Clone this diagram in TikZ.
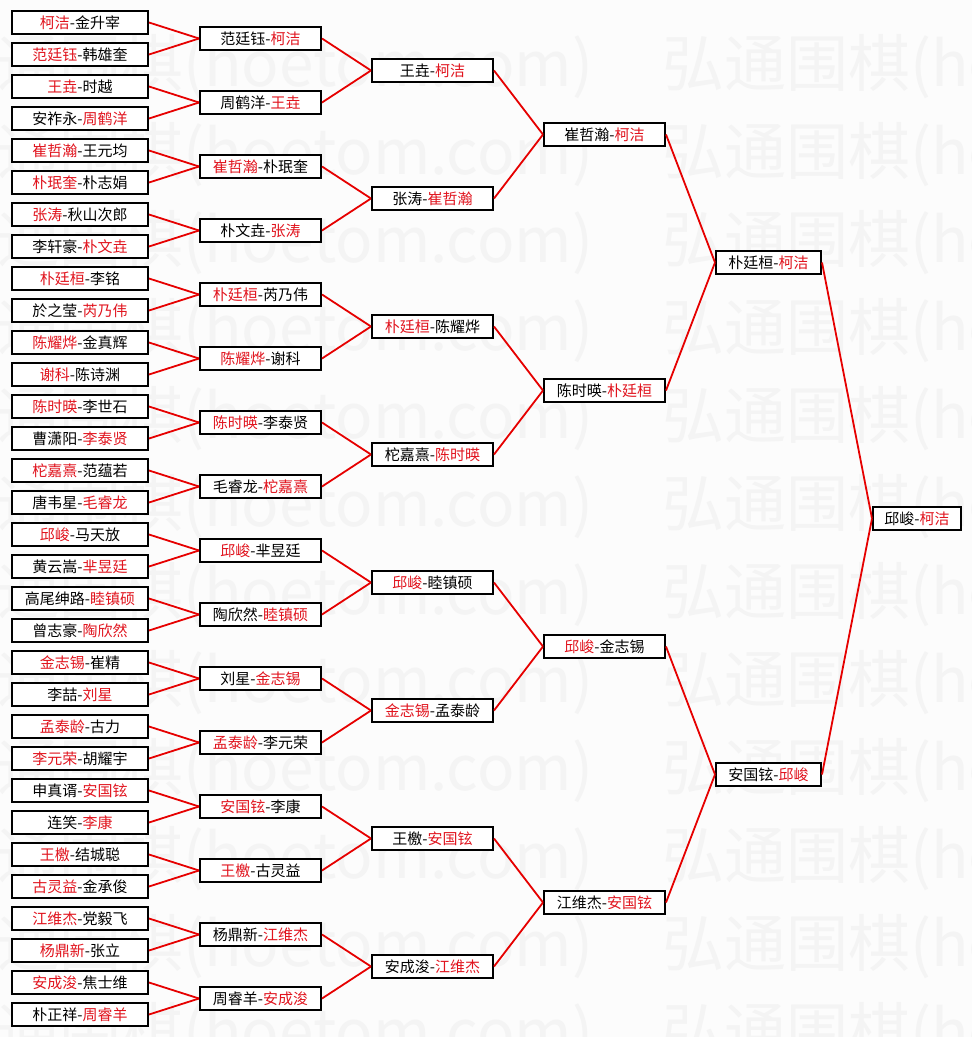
\documentclass[tikz,border=0pt]{standalone}
\usepackage{fontspec}
\setmainfont{Noto Sans CJK SC}
\usepackage{xcolor}
\usepackage{tikz}

\definecolor{wincol}{RGB}{225,20,30}
\definecolor{linecol}{RGB}{230,0,0}
\definecolor{bgcol}{RGB}{252,252,252}
\definecolor{wmcol}{RGB}{244,244,244}
\newcommand{\win}[1]{\textcolor{wincol}{#1}}
\newcommand{\wmtxt}{弘通围棋(hoetom.com)}

\begin{document}
\begin{tikzpicture}[x=1pt, y=1pt, node distance=32pt]
\tikzstyle{match}=[shape=rectangle, draw=black, line width=2pt, fill=white,
                   inner sep=0pt, minimum height=23pt, font=\fontsize{15}{18}\selectfont]
\tikzstyle{rnd64}=[match, minimum width=136pt, node distance=32pt]
\tikzstyle{rnd32}=[match, minimum width=121pt, node distance=180.5pt]
\tikzstyle{rnd16}=[match, minimum width=121pt, node distance=172pt]
\tikzstyle{rndqf}=[match, minimum width=121pt, node distance=172pt]
\tikzstyle{rndsf}=[match, minimum width=105pt, node distance=164pt]
\tikzstyle{rndfin}=[match, minimum width=88pt, node distance=148.5pt]
\tikzstyle{feed}=[draw=linecol, line width=1.8pt]
\tikzstyle{wmtext}=[anchor=west, inner sep=0pt, text=wmcol,
                    font=\fontsize{62}{62}\selectfont]
  \path[use as bounding box, fill=bgcol] (0,0) rectangle (972,-1037);
  % watermark
  \begin{scope}
  \clip (0,0) rectangle (972,-1037);
  \node[wmtext] (wm1a)  at (-65,-67)   {\wmtxt}; \node[wmtext] (wm1b)  at (662,-67)   {\wmtxt};
  \node[wmtext] (wm2a)  at (-65,-155)  {\wmtxt}; \node[wmtext] (wm2b)  at (662,-155)  {\wmtxt};
  \node[wmtext] (wm3a)  at (-65,-243)  {\wmtxt}; \node[wmtext] (wm3b)  at (662,-243)  {\wmtxt};
  \node[wmtext] (wm4a)  at (-65,-331)  {\wmtxt}; \node[wmtext] (wm4b)  at (662,-331)  {\wmtxt};
  \node[wmtext] (wm5a)  at (-65,-419)  {\wmtxt}; \node[wmtext] (wm5b)  at (662,-419)  {\wmtxt};
  \node[wmtext] (wm6a)  at (-65,-507)  {\wmtxt}; \node[wmtext] (wm6b)  at (662,-507)  {\wmtxt};
  \node[wmtext] (wm7a)  at (-65,-595)  {\wmtxt}; \node[wmtext] (wm7b)  at (662,-595)  {\wmtxt};
  \node[wmtext] (wm8a)  at (-65,-683)  {\wmtxt}; \node[wmtext] (wm8b)  at (662,-683)  {\wmtxt};
  \node[wmtext] (wm9a)  at (-65,-771)  {\wmtxt}; \node[wmtext] (wm9b)  at (662,-771)  {\wmtxt};
  \node[wmtext] (wm10a) at (-65,-859)  {\wmtxt}; \node[wmtext] (wm10b) at (662,-859)  {\wmtxt};
  \node[wmtext] (wm11a) at (-65,-947)  {\wmtxt}; \node[wmtext] (wm11b) at (662,-947)  {\wmtxt};
  \node[wmtext] (wm12a) at (-65,-1035) {\wmtxt}; \node[wmtext] (wm12b) at (662,-1035) {\wmtxt};
  \end{scope}
  %
  \node[rnd64] (a1) at (80,-22.5) {\win{柯洁}-金升宰};
  \node[rnd64] (a2)  [below of=a1]  {\win{范廷钰}-韩雄奎};
  \node[rnd64] (a3)  [below of=a2]  {\win{王垚}-时越};
  \node[rnd64] (a4)  [below of=a3]  {安祚永-\win{周鹤洋}};
  \node[rnd64] (a5)  [below of=a4]  {\win{崔哲瀚}-王元均};
  \node[rnd64] (a6)  [below of=a5]  {\win{朴珉奎}-朴志娟};
  \node[rnd64] (a7)  [below of=a6]  {\win{张涛}-秋山次郎};
  \node[rnd64] (a8)  [below of=a7]  {李轩豪-\win{朴文垚}};
  \node[rnd64] (a9)  [below of=a8]  {\win{朴廷桓}-李铭};
  \node[rnd64] (a10) [below of=a9]  {於之莹-\win{芮乃伟}};
  \node[rnd64] (a11) [below of=a10] {\win{陈耀烨}-金真辉};
  \node[rnd64] (a12) [below of=a11] {\win{谢科}-陈诗渊};
  \node[rnd64] (a13) [below of=a12] {\win{陈时暎}-李世石};
  \node[rnd64] (a14) [below of=a13] {曹潇阳-\win{李泰贤}};
  \node[rnd64] (a15) [below of=a14] {\win{柁嘉熹}-范蕴若};
  \node[rnd64] (a16) [below of=a15] {唐韦星-\win{毛睿龙}};
  \node[rnd64] (a17) [below of=a16] {\win{邱峻}-马天放};
  \node[rnd64] (a18) [below of=a17] {黄云嵩-\win{芈昱廷}};
  \node[rnd64] (a19) [below of=a18] {高尾绅路-\win{睦镇硕}};
  \node[rnd64] (a20) [below of=a19] {曾志豪-\win{陶欣然}};
  \node[rnd64] (a21) [below of=a20] {\win{金志锡}-崔精};
  \node[rnd64] (a22) [below of=a21] {李喆-\win{刘星}};
  \node[rnd64] (a23) [below of=a22] {\win{孟泰龄}-古力};
  \node[rnd64] (a24) [below of=a23] {\win{李元荣}-胡耀宇};
  \node[rnd64] (a25) [below of=a24] {申真谞-\win{安国铉}};
  \node[rnd64] (a26) [below of=a25] {连笑-\win{李康}};
  \node[rnd64] (a27) [below of=a26] {\win{王檄}-结城聪};
  \node[rnd64] (a28) [below of=a27] {\win{古灵益}-金承俊};
  \node[rnd64] (a29) [below of=a28] {\win{江维杰}-党毅飞};
  \node[rnd64] (a30) [below of=a29] {\win{杨鼎新}-张立};
  \node[rnd64] (a31) [below of=a30] {\win{安成浚}-焦士维};
  \node[rnd64] (a32) [below of=a31] {朴正祥-\win{周睿羊}};
  %
  \node[rnd32] (b1)  [right of=a1,  yshift=-16pt] {范廷钰-\win{柯洁}};
  \node[rnd32] (b2)  [right of=a3,  yshift=-16pt] {周鹤洋-\win{王垚}};
  \node[rnd32] (b3)  [right of=a5,  yshift=-16pt] {\win{崔哲瀚}-朴珉奎};
  \node[rnd32] (b4)  [right of=a7,  yshift=-16pt] {朴文垚-\win{张涛}};
  \node[rnd32] (b5)  [right of=a9,  yshift=-16pt] {\win{朴廷桓}-芮乃伟};
  \node[rnd32] (b6)  [right of=a11, yshift=-16pt] {\win{陈耀烨}-谢科};
  \node[rnd32] (b7)  [right of=a13, yshift=-16pt] {\win{陈时暎}-李泰贤};
  \node[rnd32] (b8)  [right of=a15, yshift=-16pt] {毛睿龙-\win{柁嘉熹}};
  \node[rnd32] (b9)  [right of=a17, yshift=-16pt] {\win{邱峻}-芈昱廷};
  \node[rnd32] (b10) [right of=a19, yshift=-16pt] {陶欣然-\win{睦镇硕}};
  \node[rnd32] (b11) [right of=a21, yshift=-16pt] {刘星-\win{金志锡}};
  \node[rnd32] (b12) [right of=a23, yshift=-16pt] {\win{孟泰龄}-李元荣};
  \node[rnd32] (b13) [right of=a25, yshift=-16pt] {\win{安国铉}-李康};
  \node[rnd32] (b14) [right of=a27, yshift=-16pt] {\win{王檄}-古灵益};
  \node[rnd32] (b15) [right of=a29, yshift=-16pt] {杨鼎新-\win{江维杰}};
  \node[rnd32] (b16) [right of=a31, yshift=-16pt] {周睿羊-\win{安成浚}};
  %
  \node[rnd16] (c1) [right of=b1,  yshift=-32pt] {王垚-\win{柯洁}};
  \node[rnd16] (c2) [right of=b3,  yshift=-32pt] {张涛-\win{崔哲瀚}};
  \node[rnd16] (c3) [right of=b5,  yshift=-32pt] {\win{朴廷桓}-陈耀烨};
  \node[rnd16] (c4) [right of=b7,  yshift=-32pt] {柁嘉熹-\win{陈时暎}};
  \node[rnd16] (c5) [right of=b9,  yshift=-32pt] {\win{邱峻}-睦镇硕};
  \node[rnd16] (c6) [right of=b11, yshift=-32pt] {\win{金志锡}-孟泰龄};
  \node[rnd16] (c7) [right of=b13, yshift=-32pt] {王檄-\win{安国铉}};
  \node[rnd16] (c8) [right of=b15, yshift=-32pt] {安成浚-\win{江维杰}};
  %
  \node[rndqf] (d1) [right of=c1, yshift=-64pt] {崔哲瀚-\win{柯洁}};
  \node[rndqf] (d2) [right of=c3, yshift=-64pt] {陈时暎-\win{朴廷桓}};
  \node[rndqf] (d3) [right of=c5, yshift=-64pt] {\win{邱峻}-金志锡};
  \node[rndqf] (d4) [right of=c7, yshift=-64pt] {江维杰-\win{安国铉}};
  %
  \node[rndsf] (e1) [right of=d1, yshift=-128pt] {朴廷桓-\win{柯洁}};
  \node[rndsf] (e2) [right of=d3, yshift=-128pt] {安国铉-\win{邱峻}};
  %
  \node[rndfin] (f1) [right of=e1, yshift=-256pt] {邱峻-\win{柯洁}};
  %
  \path[feed] (a1.east)  edge (b1.west)  (a2.east)  edge (b1.west);
  \path[feed] (a3.east)  edge (b2.west)  (a4.east)  edge (b2.west);
  \path[feed] (a5.east)  edge (b3.west)  (a6.east)  edge (b3.west);
  \path[feed] (a7.east)  edge (b4.west)  (a8.east)  edge (b4.west);
  \path[feed] (a9.east)  edge (b5.west)  (a10.east) edge (b5.west);
  \path[feed] (a11.east) edge (b6.west)  (a12.east) edge (b6.west);
  \path[feed] (a13.east) edge (b7.west)  (a14.east) edge (b7.west);
  \path[feed] (a15.east) edge (b8.west)  (a16.east) edge (b8.west);
  \path[feed] (a17.east) edge (b9.west)  (a18.east) edge (b9.west);
  \path[feed] (a19.east) edge (b10.west) (a20.east) edge (b10.west);
  \path[feed] (a21.east) edge (b11.west) (a22.east) edge (b11.west);
  \path[feed] (a23.east) edge (b12.west) (a24.east) edge (b12.west);
  \path[feed] (a25.east) edge (b13.west) (a26.east) edge (b13.west);
  \path[feed] (a27.east) edge (b14.west) (a28.east) edge (b14.west);
  \path[feed] (a29.east) edge (b15.west) (a30.east) edge (b15.west);
  \path[feed] (a31.east) edge (b16.west) (a32.east) edge (b16.west);
  %
  \path[feed] (b1.east)  edge (c1.west) (b2.east)  edge (c1.west);
  \path[feed] (b3.east)  edge (c2.west) (b4.east)  edge (c2.west);
  \path[feed] (b5.east)  edge (c3.west) (b6.east)  edge (c3.west);
  \path[feed] (b7.east)  edge (c4.west) (b8.east)  edge (c4.west);
  \path[feed] (b9.east)  edge (c5.west) (b10.east) edge (c5.west);
  \path[feed] (b11.east) edge (c6.west) (b12.east) edge (c6.west);
  \path[feed] (b13.east) edge (c7.west) (b14.east) edge (c7.west);
  \path[feed] (b15.east) edge (c8.west) (b16.east) edge (c8.west);
  %
  \path[feed] (c1.east) edge (d1.west) (c2.east) edge (d1.west);
  \path[feed] (c3.east) edge (d2.west) (c4.east) edge (d2.west);
  \path[feed] (c5.east) edge (d3.west) (c6.east) edge (d3.west);
  \path[feed] (c7.east) edge (d4.west) (c8.east) edge (d4.west);
  %
  \path[feed] (d1.east) edge (e1.west) (d2.east) edge (e1.west);
  \path[feed] (d3.east) edge (e2.west) (d4.east) edge (e2.west);
  %
  \path[feed] (e1.east) edge (f1.west) (e2.east) edge (f1.west);
\end{tikzpicture}
\end{document}
